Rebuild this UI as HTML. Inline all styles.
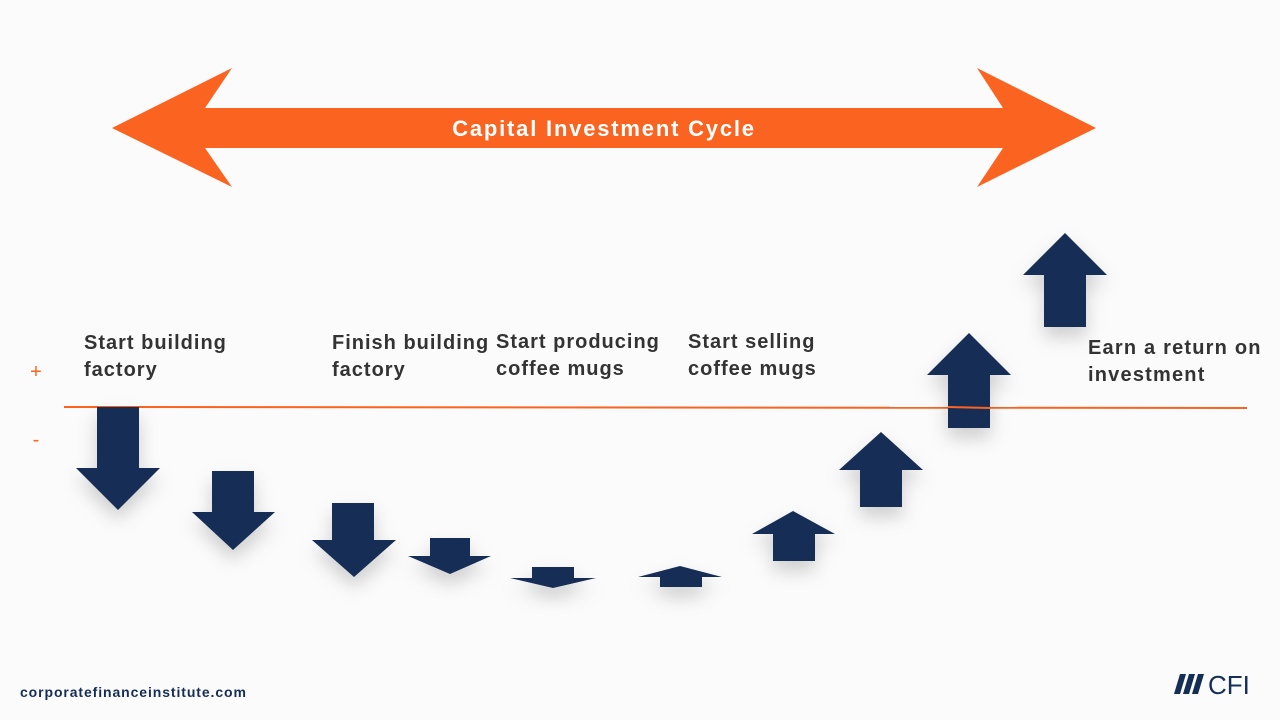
<!DOCTYPE html>
<html><head><meta charset="utf-8"><style>
html,body{margin:0;padding:0;background:#fbfbfb;}
body{width:1280px;height:720px;overflow:hidden;position:relative;font-family:"Liberation Sans",sans-serif;}
.t{position:absolute;font-weight:bold;font-size:20px;line-height:27px;color:#333;white-space:nowrap;letter-spacing:1px;}
</style></head><body>
<svg width="1280" height="720" style="position:absolute;left:0;top:0">
<defs><filter id="sh" x="-50%" y="-50%" width="200%" height="200%"><feDropShadow dx="0" dy="10" stdDeviation="9" flood-color="#000" flood-opacity="0.18"/></filter></defs>
<polygon points="112,128 232,68 205,108 1003,108 977,68 1096,128 977,187 1003,148 205,148 232,187" fill="#fa6420"/>
<text x="604" y="136" text-anchor="middle" font-family="Liberation Sans, sans-serif" font-weight="bold" font-size="22" letter-spacing="1.8" fill="#fff">Capital Investment Cycle</text>
<line x1="64" y1="407" x2="1247" y2="408" stroke="#fa6420" stroke-width="2"/>
<text x="36" y="378" text-anchor="middle" font-size="20" fill="#fa6420" font-family="Liberation Sans, sans-serif">+</text>
<text x="36" y="446" text-anchor="middle" font-size="20" fill="#fa6420" font-family="Liberation Sans, sans-serif">-</text>
<g fill="#152e55" filter="url(#sh)">
<polygon points="97,407 139,407 139,468 160,468 118,510 76,468 97,468"/>
<polygon points="212,471 254,471 254,512 275,512 233,550 192,512 212,512"/>
<polygon points="332,503 374,503 374,540 396,540 354,577 312,540 332,540"/>
<polygon points="430,538 470,538 470,556 491,556 450,574 408,556 430,556"/>
<polygon points="532,567 574,567 574,578 596,578 553,588 510,578 532,578"/>
<polygon points="660,587 702,587 702,577 722,577 680,566 638,577 660,577"/>
<polygon points="773,561 815,561 815,534 835,534 793,511 752,534 773,534"/>
<polygon points="860,507 902,507 902,470 923,470 881,432 839,470 860,470"/>
<polygon points="948,428 990,428 990,375 1011,375 969,333 927,375 948,375"/>
<polygon points="1044,327 1086,327 1086,275 1107,275 1065,233 1023,275 1044,275"/>
</g>
<line x1="948" y1="407" x2="990" y2="408" stroke="#fa6420" stroke-width="2"/>
<g transform="translate(1176,674)" fill="#152e55">
<polygon points="4,0 10,0 4,20 -2,20"/><polygon points="13,0 19,0 13,20 7,20"/><polygon points="22,0 28,0 22,20 16,20"/>
</g>
<text x="1208" y="694" font-family="Liberation Sans, sans-serif" font-size="26" fill="#152e55">CFI</text>
</svg>
<div class="t" style="left:84px;top:330px">Start building<br>factory</div>
<div class="t" style="left:332px;top:330px">Finish building<br>factory</div>
<div class="t" style="left:496px;top:329px">Start producing<br>coffee mugs</div>
<div class="t" style="left:688px;top:329px">Start selling<br>coffee mugs</div>
<div class="t" style="left:1088px;top:335px;letter-spacing:1.2px">Earn a return on<br>investment</div>
<div style="position:absolute;left:20px;top:684px;font-weight:bold;font-size:14px;letter-spacing:0.9px;color:#152e55">corporatefinanceinstitute.com</div>
</body></html>
